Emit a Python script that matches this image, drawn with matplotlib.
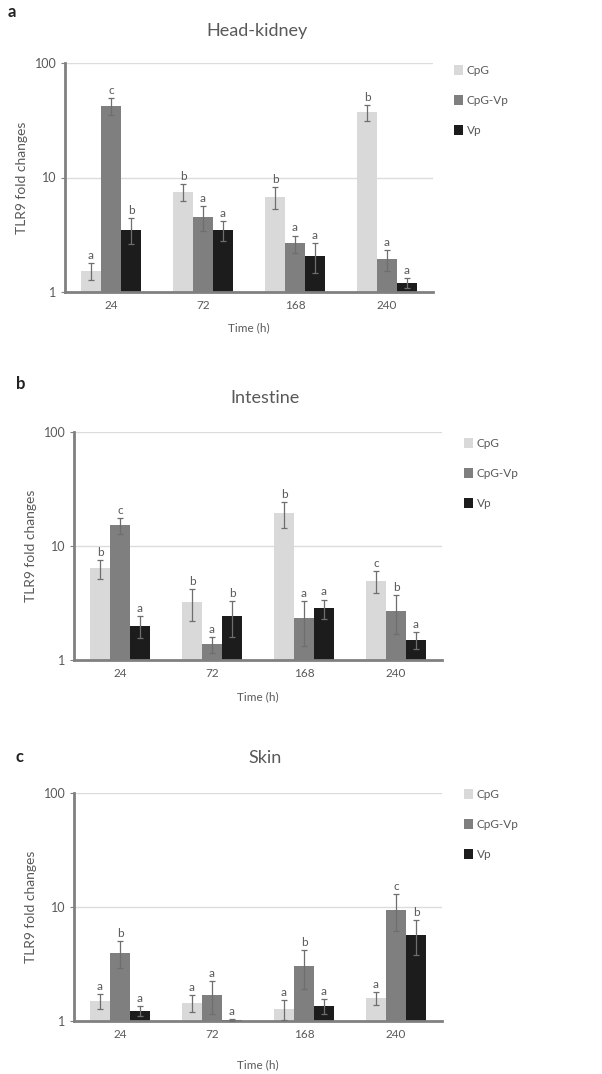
import numpy as np
import matplotlib.pyplot as plt

plt.rcParams['font.family'] = ['Lato', 'DejaVu Sans']

times = ["24", "72", "168", "240"]
groups = ["CpG", "CpG-Vp", "Vp"]
colors = ["#d9d9d9", "#7f7f7f", "#1c1c1c"]

# Head-kidney
hk_mean = [[1.53, 7.5, 6.8, 37.0],
           [42.0, 4.5, 2.66, 1.93],
           [3.5, 3.5, 2.06, 1.2]]
hk_err = [[0.25, 1.3, 1.5, 6.0],
          [7.0, 1.1, 0.45, 0.4],
          [0.9, 0.7, 0.6, 0.12]]
hk_let = [["a", "b", "b", "b"],
          ["c", "a", "a", "a"],
          ["b", "a", "a", "a"]]

# Intestine
in_mean = [[6.35, 3.2, 19.5, 4.95],
           [15.2, 1.37, 2.32, 2.7],
           [2.0, 2.44, 2.84, 1.5]]
in_err = [[1.2, 1.0, 5.0, 1.1],
          [2.5, 0.22, 1.0, 1.0],
          [0.45, 0.85, 0.55, 0.25]]
in_let = [["b", "b", "b", "c"],
          ["c", "a", "a", "b"],
          ["a", "b", "a", "a"]]

# Skin
sk_mean = [[1.49, 1.44, 1.27, 1.58],
           [3.95, 1.70, 3.04, 9.5],
           [1.23, 1.03, 1.35, 5.72]]
sk_err = [[0.22, 0.24, 0.25, 0.2],
          [1.05, 0.55, 1.15, 3.4],
          [0.13, 0.02, 0.2, 1.9]]
sk_let = [["a", "a", "a", "a"],
          ["b", "a", "b", "c"],
          ["a", "a", "a", "b"]]

W, H = 602, 1074
txt = "#595959"
spine = "#808080"


def panel(fig, box, title, letter, lpos, tpos, legpos, means, errs, lets, xlab_y):
    x0, y0, x1, y1 = box
    ax = fig.add_axes([x0 / W, 1 - y1 / H, (x1 - x0) / W, (y1 - y0) / H])
    x = np.arange(len(times))
    bw = 0.217
    for i, g in enumerate(groups):
        pos = x + (i - 1) * bw
        ax.bar(pos, means[i], bw, color=colors[i], label=g, zorder=2)
        ax.errorbar(pos, means[i], yerr=errs[i], fmt="none", ecolor="#6e6e6e",
                    elinewidth=0.9, capsize=2.5, capthick=0.9, zorder=3)
        for xx, m, e, l in zip(pos, means[i], errs[i], lets[i]):
            ax.annotate(l, (xx, m + e), xytext=(0, 1.5), textcoords="offset points",
                        ha="center", va="bottom", fontsize=8.5, color=txt)
    ax.set_yscale("log")
    ax.set_ylim(1, 100)
    ax.set_xlim(-0.5, 3.5)
    ax.set_yticks([1, 10, 100])
    ax.set_yticklabels(["1", "10", "100"])
    ax.minorticks_off()
    ax.set_xticks(x)
    ax.set_xticklabels(times)
    ax.tick_params(axis="y", length=3, color=spine, labelsize=9, labelcolor=txt, pad=3)
    ax.tick_params(axis="x", length=0, labelsize=8.5, labelcolor=txt, pad=6)
    ax.yaxis.grid(True, color="#dcdcdc", lw=1, zorder=0)
    ax.set_axisbelow(True)
    for s in ["top", "right"]:
        ax.spines[s].set_visible(False)
    ax.spines["left"].set_color(spine)
    ax.spines["left"].set_linewidth(2)
    ax.spines["bottom"].set_color(spine)
    ax.spines["bottom"].set_linewidth(2)
    ax.set_ylabel("TLR9 fold changes", fontsize=10, color=txt, labelpad=5)
    fig.text(tpos[0] / W, 1 - tpos[1] / H, title, ha="center", va="center",
             fontsize=13, color=txt)
    fig.text(lpos[0] / W, 1 - lpos[1] / H, letter, ha="left", va="center",
             fontsize=12, fontweight="bold", color="#222222")
    fig.text(((x0 + x1) / 2) / W, 1 - xlab_y / H, "Time (h)", ha="center",
             va="center", fontsize=8.5, color=txt)
    leg = ax.legend(loc="upper left", bbox_to_anchor=(legpos[0] / W, 1 - legpos[1] / H),
                    bbox_transform=fig.transFigure, frameon=False, fontsize=8.5,
                    handlelength=0.8, handleheight=0.9, handletextpad=0.3,
                    labelspacing=1.6, borderaxespad=0, borderpad=0)
    for t in leg.get_texts():
        t.set_color(txt)
    return ax


fig = plt.figure(figsize=(W / 100, H / 100), dpi=100)
panel(fig, (65, 63, 433, 292), "Head-kidney", "a", (8, 12), (257, 31), (454, 65),
      hk_mean, hk_err, hk_let, 328)
panel(fig, (74, 432, 442, 660), "Intestine", "b", (16, 384), (265, 398), (464, 438),
      in_mean, in_err, in_let, 697)
panel(fig, (74, 793, 442, 1021), "Skin", "c", (16, 757), (265, 758), (464, 789),
      sk_mean, sk_err, sk_let, 1065)
fig.savefig("out.png", dpi=100, facecolor="white")
